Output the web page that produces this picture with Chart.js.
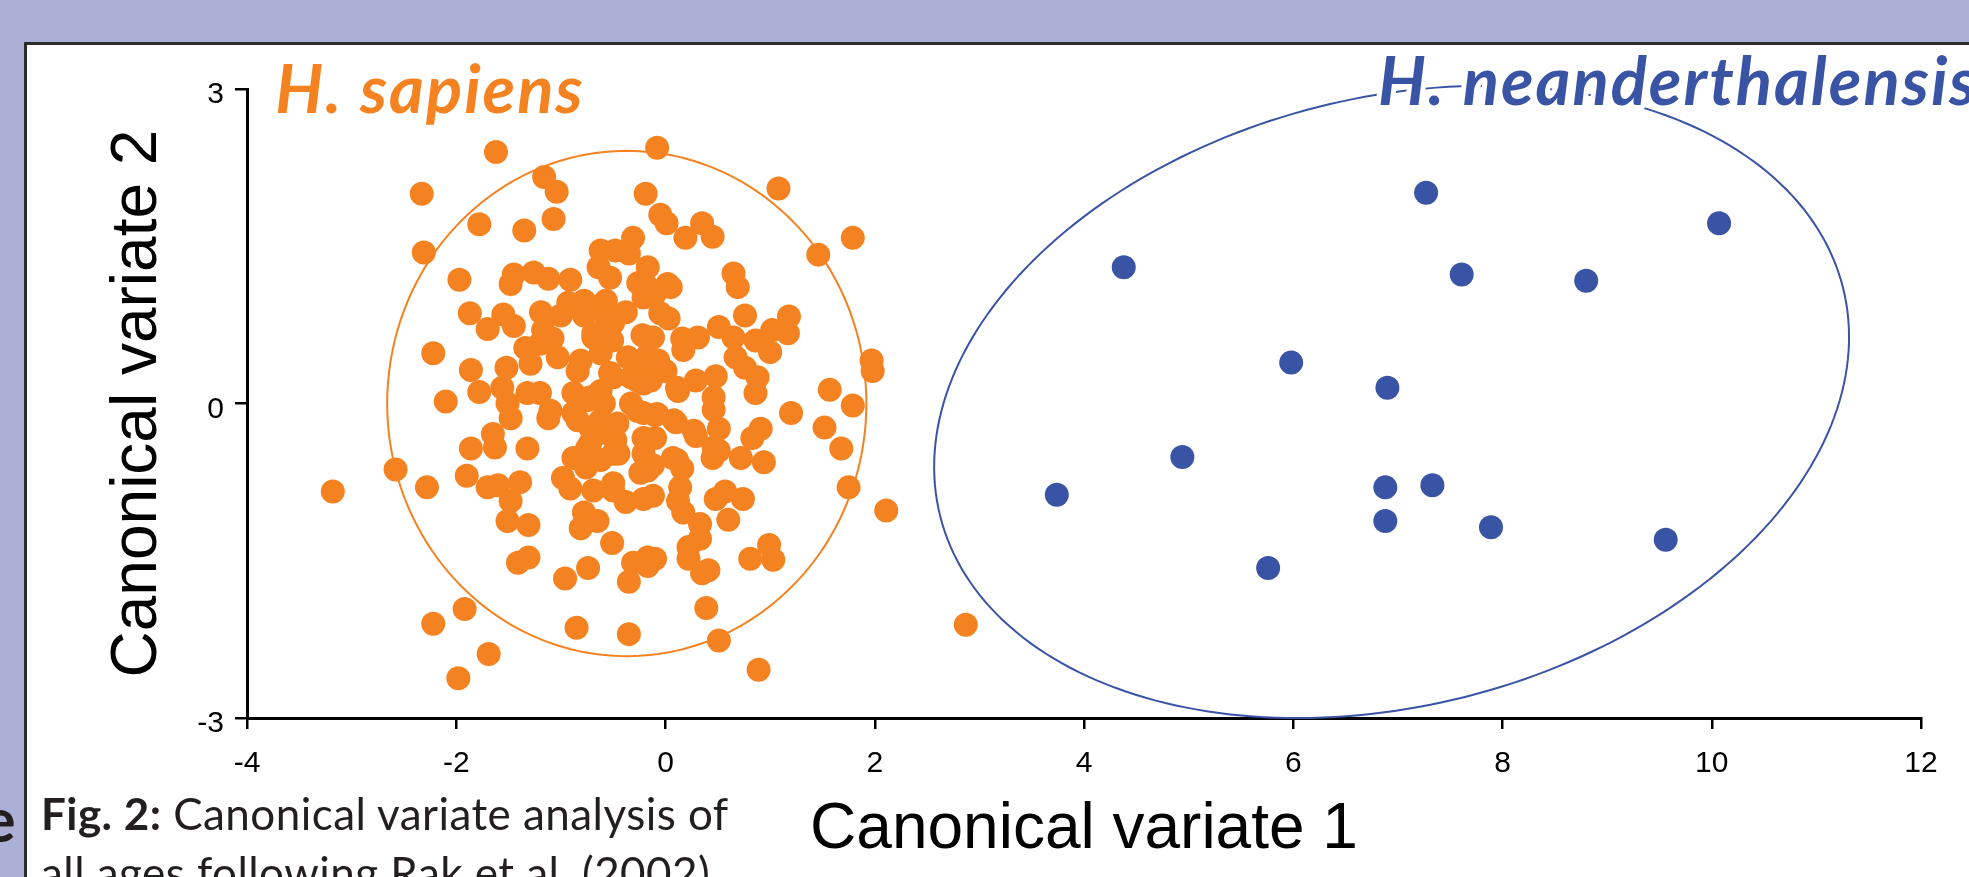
<!DOCTYPE html>
<html>
<head>
<meta charset="utf-8">
<script src="https://cdn.jsdelivr.net/npm/chart.js@4.4.1/dist/chart.umd.min.js"></script>
<style>
  html, body { margin: 0; padding: 0; }
  body { width: 1969px; height: 877px; overflow: hidden; background: #adb0d6; position: relative; font-family: Lato, sans-serif; }
  .panel { position: absolute; left: 24px; top: 42px; width: 2000px; height: 900px; background: #fff; border-top: 3px solid #2b2b2b; border-left: 3px solid #2b2b2b; }
  #cva { position: absolute; left: 0; top: 0; }
  .caption { position: absolute; left: 41px; top: 784px; font-size: 44px; line-height: 59px; letter-spacing: 0.45px; color: #231f20; white-space: nowrap; }
  .caption b { font-weight: 700; }
  .edge { position: absolute; left: -17px; top: 782px; font: 700 61px Lato, sans-serif; line-height: 1.2; color: #231f20; }
</style>
</head>
<body>
<div class="edge">e</div>
<div class="panel"></div>
<canvas id="cva" width="1969" height="877"></canvas>
<div class="caption"><b>Fig. 2:</b> Canonical variate analysis of<br>all ages following Rak et al. (2002)</div>

<script>
// CVA scatter: H. sapiens vs H. neanderthalensis, with group ellipses.

// [canonical variate 1, canonical variate 2]
const sapiens = [
  [-1.62, 2.40], [-2.33, 2.00], [-1.16, 2.16], [-1.04, 2.02], [-1.78, 1.71], [-1.35, 1.65], [-1.07, 1.76],
  [-2.31, 1.44], [-0.19, 2.00], [-0.08, 2.44], [-1.97, 1.18], [-0.31, 1.58], [-0.62, 1.46], [-0.48, 1.46],
  [-1.48, 1.14], [-1.45, 1.23], [-1.26, 1.25], [-1.12, 1.19], [-0.91, 1.18], [-0.35, 1.43], [-0.64, 1.30],
  [-0.53, 1.20], [-0.17, 1.30], [-0.26, 1.15], [-1.87, 0.86], [-1.70, 0.71], [-1.55, 0.85], [-1.45, 0.74],
  [-1.19, 0.87], [-0.93, 0.96], [-0.75, 0.95], [-0.57, 0.98], [-1.00, 0.84], [-0.78, 0.84], [-0.50, 0.77],
  [-0.38, 0.87], [-0.21, 1.01], [-0.22, 0.65], [-2.22, 0.48], [-1.34, 0.53], [-1.20, 0.57], [-1.08, 0.62],
  [-1.17, 0.70], [-1.03, 0.44], [-0.69, 0.67], [-0.51, 0.60], [-1.86, 0.32], [-1.52, 0.34], [-1.29, 0.38],
  [-0.81, 0.41], [-0.62, 0.48], [-0.36, 0.44], [-0.21, 0.38], [-2.10, 0.02], [-1.78, 0.11], [-1.56, 0.15],
  [-1.51, 0.00], [-1.32, 0.10], [-1.20, 0.10], [-1.10, -0.07], [-0.88, 0.10], [-0.75, 0.03], [-0.62, 0.12],
  [-0.53, 0.29], [-0.33, 0.25], [-0.21, 0.19], [-0.33, 0.00], [-0.84, 0.31],
  [-0.05, 1.80], [0.01, 1.72], [0.35, 1.72], [0.45, 1.59], [0.19, 1.58], [1.08, 2.05], [1.79, 1.58],
  [1.46, 1.42], [0.65, 1.24], [0.69, 1.11], [0.02, 1.14], [-0.10, 1.05], [0.03, 0.81], [0.76, 0.84],
  [1.18, 0.83], [0.51, 0.73], [0.16, 0.62], [0.31, 0.63], [0.65, 0.63], [0.86, 0.60], [1.02, 0.70],
  [1.17, 0.67], [1.00, 0.49], [0.67, 0.44], [0.76, 0.34], [0.88, 0.25], [0.86, 0.10], [0.48, 0.26],
  [0.29, 0.22], [0.46, 0.06], [0.12, 0.12], [-0.07, 0.41], [-0.12, 0.63], [-0.14, 0.22], [1.97, 0.41],
  [1.98, 0.31], [1.57, 0.13], [1.79, -0.02], [1.20, -0.09], [0.00, 0.31],
  [-3.18, -0.84], [-2.58, -0.63], [-2.28, -0.80], [-1.90, -0.69], [-1.86, -0.43], [-1.63, -0.42],
  [-1.65, -0.29], [-1.48, -0.14], [-1.32, -0.43], [-1.70, -0.80], [-1.60, -0.78], [-1.39, -0.75],
  [-1.48, -0.93], [-1.51, -1.12], [-1.31, -1.16], [-1.41, -1.52], [-1.31, -1.47], [-1.12, -0.14],
  [-0.88, -0.09], [-0.98, -0.71], [-0.91, -0.81], [-0.88, -0.52], [-0.75, -0.43], [-0.76, -0.61],
  [-0.62, -0.54], [-0.72, -0.23], [-0.59, -0.28], [-0.45, -0.48], [-0.48, -0.35], [-0.24, -0.66],
  [-0.50, -0.76], [-0.69, -0.83], [-0.38, -0.94], [-0.21, -0.91], [-0.78, -1.04], [-0.65, -1.12],
  [-0.81, -1.19], [-0.51, -1.33], [-0.96, -1.67], [-0.74, -1.57], [-0.35, -1.70], [-0.31, -1.52],
  [-0.17, -1.47], [-0.21, -0.09], [-0.21, -0.33], [-0.19, -0.62], [-1.92, -1.96], [-2.22, -2.10],
  [-1.69, -2.39], [-1.98, -2.62], [-0.85, -2.14], [-0.35, -2.20],
  [1.52, -0.23], [1.68, -0.43], [1.75, -0.80], [2.11, -1.02], [2.87, -2.11], [0.89, -2.54], [0.51, -2.26],
  [0.39, -1.95], [0.81, -1.48], [0.99, -1.35], [1.03, -1.49], [0.35, -1.62], [0.41, -1.59], [0.22, -1.48],
  [0.22, -1.37], [0.33, -1.29], [0.33, -1.15], [0.17, -1.04], [0.12, -0.93], [0.60, -1.11], [0.48, -0.91],
  [0.57, -0.84], [0.74, -0.91], [-0.12, -0.88], [-0.10, -1.48], [-0.17, -1.55], [0.72, -0.52], [0.94, -0.56],
  [0.91, -0.24], [0.83, -0.33], [0.46, -0.06], [0.51, -0.24], [0.45, -0.52], [0.51, -0.45], [0.29, -0.31],
  [0.16, -0.62], [0.07, -0.52], [0.10, -0.18], [-0.10, -0.33], [-0.12, -0.59], [-0.10, -0.11],
  [-0.17, 0.46], [-0.08, 0.38], [0.17, 0.51], [0.11, 0.15], [-0.27, 0.22], [-0.50, 0.25], [-0.72, 0.06],
  [-0.59, 0.00], [-0.27, -0.07], [-0.08, -0.10], [0.08, -0.16], [0.27, -0.26], [0.46, -0.42], [0.11, -0.54],
  [-0.21, -0.48], [-0.17, -0.64], [-0.50, -0.48], [-0.72, -0.38], [-0.84, -0.16], [-0.62, -0.16],
  [-0.46, -0.19], [0.14, -0.80], [-0.50, -0.83], [-0.78, -0.52], [-0.59, 0.86], [-0.69, 0.63], [-0.05, 0.86],
  [-0.17, 1.11], [0.05, 1.11], [-0.78, 0.98],
];

const neanderthalensis = [
  [7.27, 2.01], [10.07, 1.72], [4.38, 1.30], [7.61, 1.23], [8.80, 1.17], [5.98, 0.39], [6.90, 0.15],
  [4.94, -0.51], [3.74, -0.87], [6.88, -0.80], [7.33, -0.78], [6.88, -1.12], [7.89, -1.18], [9.56, -1.30],
  [5.76, -1.57],
];

// ellipse: [centre cv1, centre cv2, semi-axis 1, semi-axis 2, rotation in degrees]
const sapiensEllipse = [-0.37, 0.0, 2.29, 2.41, 0];
const neanderEllipse = [6.94, 0.015, 4.45, 2.9, 14.2];

const xRange = [-4, 12];
const yRange = [-3, 3];

const ORANGE = "#f58220";
const BLUE = "#3a54a5";
const AXIS_FONT = "Arial, 'Liberation Sans', sans-serif";

const toXY = (pts) => pts.map(([x, y]) => ({ x, y }));

const ellipsePlugin = {
  id: "groupEllipses",
  beforeDatasetsDraw(chart) {
    const { ctx, scales: { x, y } } = chart;
    [[sapiensEllipse, ORANGE], [neanderEllipse, BLUE]].forEach(([[cx, cy, a, b, rot], color]) => {
      const th = (rot * Math.PI) / 180;
      ctx.save();
      ctx.beginPath();
      for (let i = 0; i <= 240; i++) {
        const t = (i / 240) * Math.PI * 2;
        const u = a * Math.cos(t), v = b * Math.sin(t);
        const px = x.getPixelForValue(cx + u * Math.cos(th) - v * Math.sin(th));
        const py = y.getPixelForValue(cy + u * Math.sin(th) + v * Math.cos(th));
        if (i === 0) ctx.moveTo(px, py); else ctx.lineTo(px, py);
      }
      ctx.closePath();
      ctx.strokeStyle = color;
      ctx.lineWidth = 2;
      ctx.stroke();
      ctx.restore();
    });
  },
};

// species names, anchored in data units, with a white halo that cuts the ellipse
const speciesLabels = {
  id: "speciesLabels",
  afterDatasetsDraw(chart) {
    const { ctx, scales: { x, y } } = chart;
    const labels = [
      { text: "H. sapiens", at: [-3.73, 2.77], color: ORANGE },
      { text: "H. neanderthalensis", at: [6.81, 2.85], color: BLUE },
    ];
    ctx.save();
    ctx.font = "italic 700 67px Lato, sans-serif";
    ctx.letterSpacing = "2px";
    ctx.textBaseline = "alphabetic";
    ctx.lineJoin = "round";
    labels.forEach((l) => {
      const px = x.getPixelForValue(l.at[0]);
      const py = y.getPixelForValue(l.at[1]);
      ctx.strokeStyle = "#fff";
      ctx.lineWidth = 10;
      ctx.strokeText(l.text, px, py);
      ctx.fillStyle = l.color;
      ctx.fillText(l.text, px, py);
    });
    ctx.restore();
  },
};

new Chart(document.getElementById("cva"), {
  type: "scatter",
  data: {
    datasets: [
      { label: "H. sapiens", data: toXY(sapiens), backgroundColor: ORANGE, borderWidth: 0, pointRadius: 12, pointHoverRadius: 12 },
      { label: "H. neanderthalensis", data: toXY(neanderthalensis), backgroundColor: BLUE, borderWidth: 0, pointRadius: 12, pointHoverRadius: 12 },
    ],
  },
  options: {
    responsive: false,
    animation: false,
    devicePixelRatio: 1,
    layout: { padding: { top: 89, right: 48, left: 0, bottom: 0 } },
    plugins: { legend: { display: false }, tooltip: { enabled: false } },
    scales: {
      x: {
        type: "linear",
        min: xRange[0],
        max: xRange[1],
        afterFit: (s) => { s.height = 159; },
        ticks: { stepSize: 2, color: "#000", padding: 17, font: { family: AXIS_FONT, size: 30 } },
        grid: { drawOnChartArea: false, drawTicks: true, tickLength: 11, color: "#000", lineWidth: 2.5 },
        border: { display: true, color: "#000", width: 3 },
        title: { display: true, text: "Canonical variate 1", color: "#000", font: { family: AXIS_FONT, size: 64 }, padding: { top: 0, bottom: 8 } },
      },
      y: {
        type: "linear",
        min: yRange[0],
        max: yRange[1],
        afterFit: (s) => { s.width = 247; },
        ticks: { stepSize: 3, color: "#000", padding: 11, labelOffset: 6, font: { family: AXIS_FONT, size: 30 } },
        grid: { drawOnChartArea: false, drawTicks: true, tickLength: 12, color: "#000", lineWidth: 2.5 },
        border: { display: true, color: "#000", width: 3 },
        title: { display: true, text: "Canonical variate 2", color: "#000", font: { family: AXIS_FONT, size: 64 }, padding: { top: 100, bottom: 0 } },
      },
    },
  },
  plugins: [ellipsePlugin, speciesLabels],
});
</script>
</body>
</html>
